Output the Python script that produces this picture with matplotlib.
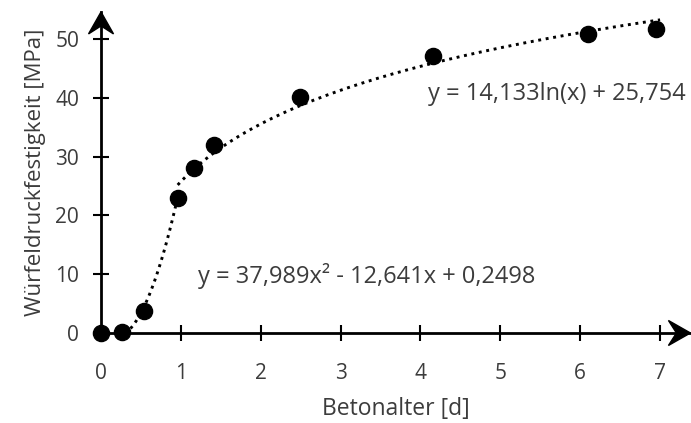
import numpy as np
from matplotlib import pyplot as plt
from matplotlib.patches import Polygon
from matplotlib.transforms import ScaledTranslation

age = [0.0, 0.26, 0.54, 0.96, 1.16, 1.41, 2.49, 4.16, 6.1, 6.95]
strength = [0.0, 0.2, 3.7, 23.0, 28.1, 31.9, 40.2, 47.1, 50.8, 51.7]
poly_coef = [37.989, -12.641, 0.2498]
log_coef = [14.133, 25.754]
x_ticks = [0, 1, 2, 3, 4, 5, 6, 7]
y_ticks = [0, 10, 20, 30, 40, 50]
poly_label = 'y = 37,989x² - 12,641x + 0,2498'
log_label = 'y = 14,133ln(x) + 25,754'

plt.rcParams['font.family'] = ['Open Sans', 'DejaVu Sans']
grey = '#3c3c3c'
dotted = (0, (1, 1.6))


def arrow_head(ax, fig, x, y, angle):
    # chevron shaped head, size in inches, tip at (x, y) in data units
    pts = np.array([[0, 0], [-0.22, 0.125], [-0.14, 0], [-0.22, -0.125]])
    c, s = np.cos(angle), np.sin(angle)
    pts = pts @ np.array([[c, s], [-s, c]])
    tr = fig.dpi_scale_trans + ScaledTranslation(x, y, ax.transData)
    ax.add_patch(Polygon(pts, closed=True, color='black', transform=tr,
                         clip_on=False, zorder=6))


def main():
    fig = plt.figure(figsize=(6.91, 4.23), dpi=100)
    ax = fig.add_axes([0.1462, 0.2128, 0.853, 0.759])
    ax.set_xlim(0, 7.38)
    ax.set_ylim(0, 54.6)

    # trend lines
    xp = np.linspace(0.3, 0.96, 60)
    yp = np.polyval(poly_coef, xp)
    ax.plot(xp, yp, color='black', linestyle=dotted, lw=2.1)
    xl = np.linspace(0.96, 7.0, 200)
    yl = log_coef[0] * np.log(xl) + log_coef[1]
    ax.plot(xl, yl, color='black', linestyle=dotted, lw=2.1)

    ax.scatter(age, strength, s=135, color='black', zorder=5, clip_on=False)

    ax.text(1.21, 8.5, poly_label, fontsize=17, color=grey, va='baseline')
    ax.text(4.09, 39.6, log_label, fontsize=17, color=grey, va='baseline')

    for s in ['top', 'right']:
        ax.spines[s].set_visible(False)
    for s in ['left', 'bottom']:
        ax.spines[s].set_linewidth(2)
        ax.spines[s].set_color('black')

    arrow_head(ax, fig, 7.38, 0, 0)
    arrow_head(ax, fig, 0, 54.6, np.pi / 2)

    ax.set_xticks(x_ticks)
    ax.set_yticks(y_ticks)
    ax.tick_params(direction='inout', length=11.5, width=1.5, color='black',
                   labelsize=15, labelcolor=grey)
    ax.tick_params(axis='x', pad=16)
    ax.tick_params(axis='y', pad=10)
    ax.set_xlabel('Betonalter [d]', fontsize=16.5, color=grey, labelpad=9)
    ax.set_ylabel('Würfeldruckfestigkeit [MPa]', fontsize=16, color=grey, labelpad=7)

    fig.savefig('out.png', dpi=100)


if __name__ == "__main__":
    main()
